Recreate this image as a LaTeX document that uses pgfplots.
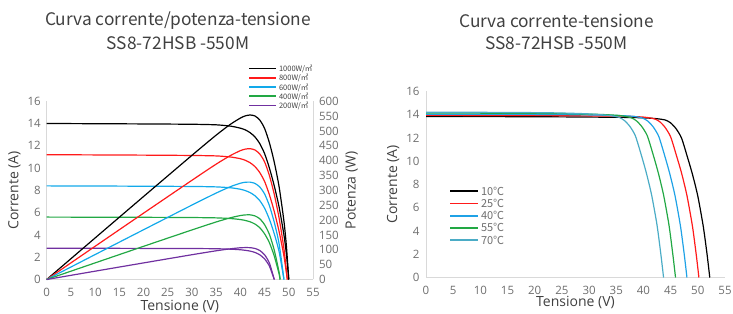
\documentclass[border=0pt]{standalone}
\usepackage{pgfplots}
\pgfplotsset{compat=1.18}
\usepackage{fontspec}
\setmainfont{Open Sans}
\newfontfamily\cjk{Noto Sans CJK SC}
\definecolor{axgray}{HTML}{D9D9D9}
\definecolor{tickgray}{HTML}{6E6E6E}
\definecolor{labgray}{HTML}{404040}
\definecolor{cRed}{HTML}{FF1A1A}
\definecolor{cBlue}{HTML}{12A9EA}
\definecolor{cGreen}{HTML}{22A844}
\definecolor{cPurple}{HTML}{7030A0}
\definecolor{cTeal}{HTML}{4BACC6}
\definecolor{cBlue2}{HTML}{1FA2E6}
\pgfplotsset{
  base/.style={
    scale only axis,
    xmin=0, xmax=55,
    xtick={0,5,...,55},
    major tick length=0pt,
    tick label style={font=\fontsize{11.5}{12}\selectfont, text=tickgray},
    xticklabel style={yshift=-5pt},
    label style={font=\fontsize{14}{15}\selectfont, text=labgray},
    /pgf/number format/assume math mode=true,
    axis line style={axgray, line width=0.8pt},
    every axis plot/.append style={line width=1.2pt, smooth, tension=0.4},
    clip=false,
  }
}
\newcommand{\lgA}[1]{\textcolor{labgray}{#1}}
\newcommand{\lgB}[1]{\textcolor{tickgray}{#1}}
\begin{document}
\begin{tikzpicture}[x=1pt,y=1pt]
\useasboundingbox (0,0) rectangle (733,313);
% titles
\node[font=\cjk\fontsize{17.3}{19}\selectfont, text=labgray] at (178,292) {Curva corrente/potenza-tensione};
\node[font=\cjk\fontsize{17.3}{19}\selectfont, text=labgray] at (178,270) {SS8-72HSB -550M};
\node[font=\cjk\fontsize{17.3}{19}\selectfont, text=labgray] at (556.5,292) {Curva corrente-tensione};
\node[font=\cjk\fontsize{17.3}{19}\selectfont, text=labgray] at (556.5,270) {SS8-72HSB -550M};
% left chart: current
\begin{axis}[base,
  at={(46.7pt,33.5pt)}, anchor=south west,
  width=266.3pt, height=178.3pt,
  ymin=0, ymax=16, ytick={0,2,...,16},
  yticklabel style={xshift=-2.5pt},
  axis x line*=bottom, axis y line*=left,
  xlabel={Tensione (V)}, ylabel={Corrente (A)},
  xlabel style={yshift=3pt}, ylabel style={yshift=0pt},
  legend style={at={(0.756,1.215)}, anchor=north west, draw=none, fill=none,
    font=\cjk\fontsize{7.5}{7.5}\selectfont, inner sep=0pt,
    row sep=-2.8pt, /tikz/every even column/.append style={column sep=1pt}},
  legend cell align=left,
  legend image code/.code={\draw[#1, line width=1.8pt] (0pt,0.5pt) -- (27pt,0.5pt);},
]
\addplot[black] coordinates {(0,14.0) (10,13.98) (20,13.96) (30,13.93) (35,13.88) (38,13.76) (40,13.58) (41,13.43) (42,13.18) (43,12.8) (44,12.2) (45,11.3) (46,10.0) (47,8.4) (48,6.5) (49,4.0) (49.5,2.3) (50,0)};
\addlegendentry{\lgA{1000W/㎡}}
\addplot[cRed] coordinates {(0,11.2) (10,11.18) (20,11.16) (30,11.13) (35,11.09) (38,10.99) (40,10.84) (41,10.7) (42,10.48) (43,10.14) (44,9.6) (45,8.8) (46,7.6) (47,6.1) (48,4.3) (49,2.1) (49.7,0)};
\addlegendentry{\lgA{800W/㎡}}
\addplot[cBlue] coordinates {(0,8.4) (10,8.39) (20,8.37) (30,8.35) (35,8.31) (38,8.23) (40,8.1) (41,7.98) (42,7.8) (43,7.52) (44,7.08) (45,6.4) (46,5.4) (47,4.1) (48,2.5) (49,0)};
\addlegendentry{\lgA{600W/㎡}}
\addplot[cGreen] coordinates {(0,5.6) (10,5.59) (20,5.58) (30,5.56) (35,5.53) (38,5.47) (40,5.38) (41,5.3) (42,5.18) (43,4.98) (44,4.65) (45,4.1) (46,3.3) (47,2.1) (48,0.5) (48.2,0)};
\addlegendentry{\lgA{400W/㎡}}
\addplot[cPurple] coordinates {(0,2.8) (10,2.8) (20,2.79) (30,2.78) (35,2.76) (38,2.72) (40,2.67) (41,2.62) (42,2.55) (43,2.43) (44,2.22) (45,1.85) (46,1.2) (47,0)};
\addlegendentry{\lgA{200W/㎡}}
\end{axis}
% left chart: power
\begin{axis}[base,
  at={(46.7pt,33.5pt)}, anchor=south west,
  width=266.3pt, height=178.3pt,
  ymin=0, ymax=600, ytick={0,50,...,600},
  yticklabel style={xshift=2.5pt},
  axis x line=none, axis y line*=right,
  ylabel={Potenza (W)}, ylabel style={yshift=0pt},
]
\addplot[black] coordinates {(0,0) (10,139.8) (20,279.2) (30,417.9) (35,485.8) (38,522.9) (40,543.2) (41,550.6) (42,553.6) (43,550.4) (44,536.8) (45,508.5) (46,460) (47,394.8) (48,312) (49,196) (49.5,113.9) (50,0)};
\addplot[cRed] coordinates {(0,0) (10,111.8) (20,223.2) (30,333.9) (35,388.2) (38,417.6) (40,433.6) (41,438.7) (42,440.2) (43,436) (44,422.4) (45,396) (46,349.6) (47,286.7) (48,206.4) (49,102.9) (49.7,0)};
\addplot[cBlue] coordinates {(0,0) (10,83.9) (20,167.4) (30,250.5) (35,290.9) (38,312.7) (40,324) (41,327.2) (42,327.6) (43,323.4) (44,311.5) (45,288) (46,248.4) (47,192.7) (48,120) (49,0)};
\addplot[cGreen] coordinates {(0,0) (10,55.9) (20,111.6) (30,166.8) (35,193.6) (38,207.9) (40,215.2) (41,217.3) (42,217.6) (43,214.1) (44,204.6) (45,184.5) (46,151.8) (47,98.7) (48,24) (48.2,0)};
\addplot[cPurple] coordinates {(0,0) (10,28) (20,55.8) (30,83.4) (35,96.6) (38,103.4) (40,106.8) (41,107.4) (42,107.1) (43,104.5) (44,97.7) (45,83.3) (46,55.2) (47,0)};
\end{axis}
% right chart
\begin{axis}[base,
  at={(426pt,35.5pt)}, anchor=south west,
  width=299pt, height=186pt,
  ymin=0, ymax=16, ytick={0,2,...,16},
  yticklabel style={xshift=-3pt},
  axis x line*=bottom, axis y line*=left,
  xlabel={Tensione (V)}, ylabel={Corrente (A)},
  xlabel style={yshift=5pt}, ylabel style={yshift=0pt},
  legend style={at={(0.077,0.5)}, anchor=north west, draw=none, fill=none,
    font=\cjk\fontsize{11}{11}\selectfont, inner sep=0pt,
    row sep=-1.6pt, /tikz/every even column/.append style={column sep=1pt}},
  legend cell align=left,
  legend image code/.code={\draw[#1, line width=1.8pt] (0pt,0.5pt) -- (28pt,0.5pt);},
]
\addplot[black] coordinates {(0,13.85) (20,13.83) (30,13.8) (38.2,13.76) (42,13.68) (44,13.55) (45,13.3) (46,12.8) (47,12.0) (48,10.5) (49,8.9) (50,7.0) (51,4.4) (51.7,2.0) (52.2,0)};
\addlegendentry{\lgB{10℃}}
\addplot[cRed] coordinates {(0,13.95) (20,13.93) (30,13.9) (36.2,13.88) (40,13.8) (42,13.65) (43,13.4) (44,12.9) (45,12.1) (46,10.6) (47,9.0) (48,7.05) (49,4.45) (49.7,2.0) (50.2,0)};
\addlegendentry{\lgB{25℃}}
\addplot[cBlue2] coordinates {(0,14.05) (20,14.03) (28,14.0) (34,13.95) (37.8,13.88) (39.8,13.72) (40.8,13.45) (41.8,12.95) (42.8,12.15) (43.8,10.65) (44.8,9.0) (45.8,7.05) (46.8,4.45) (47.5,2.0) (48.0,0)};
\addlegendentry{\lgB{40℃}}
\addplot[cGreen] coordinates {(0,14.15) (15,14.13) (25,14.1) (31.9,14.03) (35.7,13.93) (37.7,13.75) (38.7,13.48) (39.7,12.98) (40.7,12.2) (41.7,10.7) (42.7,9.05) (43.7,7.1) (44.7,4.5) (45.4,2.0) (45.9,0)};
\addlegendentry{\lgB{55℃}}
\addplot[cTeal] coordinates {(0,14.22) (15,14.2) (24,14.16) (29.7,14.08) (33.5,13.95) (35.5,13.78) (36.5,13.5) (37.5,13.0) (38.5,12.2) (39.5,10.7) (40.5,9.05) (41.5,7.1) (42.5,4.5) (43.2,2.0) (43.7,0)};
\addlegendentry{\lgB{70℃}}
\end{axis}
\end{tikzpicture}
\end{document}
